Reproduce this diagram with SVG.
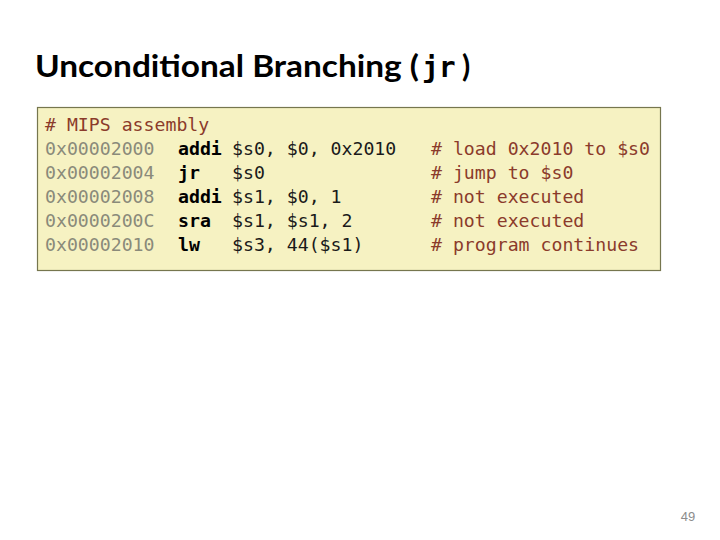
<svg xmlns="http://www.w3.org/2000/svg" width="720" height="540" viewBox="0 0 720 540">
<style>
.title{font-family:"Lato","Liberation Sans",sans-serif;font-weight:bold;font-size:30px;fill:#000}
.tmono{font-family:"DejaVu Sans Mono","Liberation Mono",monospace;font-weight:bold;font-size:28px;fill:#000}
.code{font-family:"DejaVu Sans Mono","Liberation Mono",monospace;font-size:18.2px}
.addr{fill:#8a8a7a}
.ins{fill:#000;font-weight:bold}
.ops{fill:#1a1a1a}
.cmt{fill:#8b3b2b}
.pg{font-family:"Liberation Sans",sans-serif;font-size:13px;fill:#8c8c8c}
</style>
<rect width="720" height="540" fill="#ffffff"/>
<g id="title">
<text x="35" y="77" class="title" textLength="384" lengthAdjust="spacingAndGlyphs">Unconditional Branching (</text>
<text x="422" y="77" class="tmono">jr</text>
<text x="462" y="77" class="title">)</text>
</g>
<g id="codebox">
<rect x="37.5" y="107.5" width="623" height="163" fill="#f6f2c2" stroke="#76764e" stroke-width="1.2"/>
<g class="code">
<text x="45" y="131" class="cmt"># MIPS assembly</text>
<text x="45" y="155" class="addr">0x00002000</text>
<text x="178" y="155" class="ins">addi</text>
<text x="232" y="155" class="ops">$s0, $0, 0x2010</text>
<text x="431" y="155" class="cmt"># load 0x2010 to $s0</text>
<text x="45" y="179" class="addr">0x00002004</text>
<text x="178" y="179" class="ins">jr</text>
<text x="232" y="179" class="ops">$s0</text>
<text x="431" y="179" class="cmt"># jump to $s0</text>
<text x="45" y="203" class="addr">0x00002008</text>
<text x="178" y="203" class="ins">addi</text>
<text x="232" y="203" class="ops">$s1, $0, 1</text>
<text x="431" y="203" class="cmt"># not executed</text>
<text x="45" y="227" class="addr">0x0000200C</text>
<text x="178" y="227" class="ins">sra</text>
<text x="232" y="227" class="ops">$s1, $s1, 2</text>
<text x="431" y="227" class="cmt"># not executed</text>
<text x="45" y="251" class="addr">0x00002010</text>
<text x="178" y="251" class="ins">lw</text>
<text x="232" y="251" class="ops">$s3, 44($s1)</text>
<text x="431" y="251" class="cmt"># program continues</text>
</g>
</g>
<g id="page">
<text x="688" y="521" class="pg" text-anchor="middle">49</text>
</g>
</svg>
